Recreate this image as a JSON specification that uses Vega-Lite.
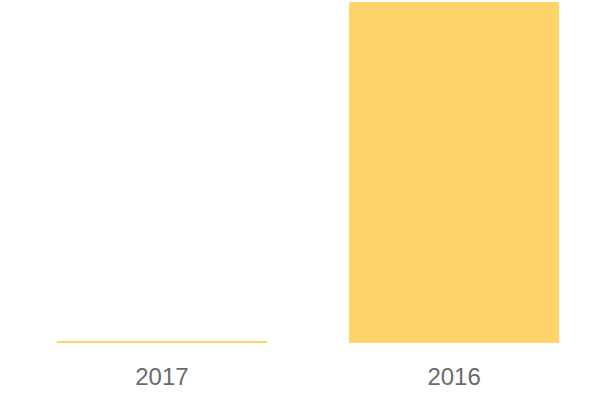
{
  "$schema": "https://vega.github.io/schema/vega-lite/v6.json",
  "width": 584,
  "height": 341,
  "autosize": {"type": "none"},
  "padding": {"left": 16, "top": 2, "right": 0, "bottom": 57},
  "background": "white",
  "config": {"view": {"stroke": null}},
  "data": {"values": [
    {"year": "2017", "value": 0.6},
    {"year": "2016", "value": 100}
  ]},
  "mark": {"type": "bar", "color": "#FFD56B"},
  "encoding": {
    "x": {
      "field": "year", "type": "nominal", "sort": null,
      "scale": {"paddingInner": 0.281, "paddingOuter": 0.14},
      "axis": {"title": null, "domain": false, "ticks": false, "labelAngle": 0,
               "labelFont": "Liberation Sans", "labelFontSize": 24, "labelColor": "#6b6b6b",
               "labelPadding": 22}
    },
    "y": {
      "field": "value", "type": "quantitative",
      "scale": {"domain": [0, 100], "nice": false},
      "axis": null
    }
  }
}
